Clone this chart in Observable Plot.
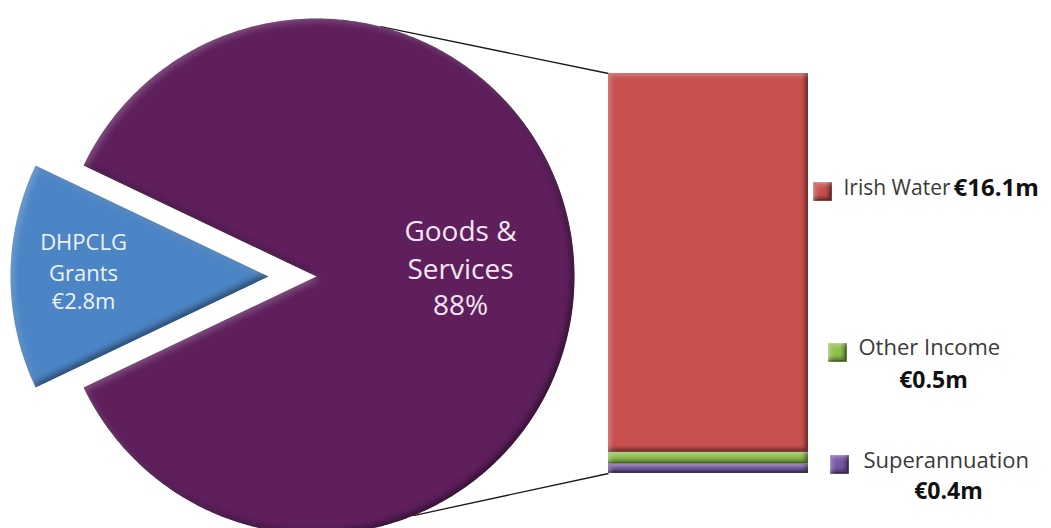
<!DOCTYPE html>
<html>
<head>
<meta charset="utf-8">
<script src="https://cdn.jsdelivr.net/npm/d3@7"></script>
<script src="https://cdn.jsdelivr.net/npm/@observablehq/plot@0.6"></script>
<style>
  html, body { margin: 0; padding: 0; background: #ffffff; }
  #chart { width: 1051px; height: 528px; }
</style>
</head>
<body>
<div id="chart"></div>
<script>
// ---------- data ----------
const pieLabels = ["Goods & Services", "DHPCLG Grants"];
const pieValues = [17.0, 2.8];
const pieTextLines = [["Goods &", "Services", "88%"], ["DHPCLG", "Grants", "€2.8m"]];

const barLabels = ["Superannuation", "Other Income", "Irish Water"];
const barValues = [0.4, 0.5, 16.1];
const barValueLabels = ["€0.4m", "€0.5m", "€16.1m"];

// ---------- styles / layout ----------
const colors = {
  "Goods & Services": "#5e1f5c",
  "DHPCLG Grants": "#4c85c5",
  "Superannuation": "#7657a3",
  "Other Income": "#8fc04e",
  "Irish Water": "#c8504f"
};
const W = 1051, H = 528;
const cx = 316, cy = 276, R = 258, explode = 48;
const barX1 = 608, barX2 = 808, barBottomPx = 473, barTopPx = 73;
const k = (barBottomPx - barTopPx) / d3.sum(barValues); // px per €m
const Y = px => (barBottomPx - px) / k;                 // pixel row -> €m
const FONT = "'Open Sans', 'Noto Sans', sans-serif";

// ---------- pie geometry from values ----------
const total = d3.sum(pieValues);
const blueSpan = 2 * Math.PI * pieValues[1] / total;
const a0 = -Math.PI / 2 + blueSpan / 2;
const arcs = d3.pie().sort(null).startAngle(a0).endAngle(a0 + 2 * Math.PI)(pieValues);
const slices = arcs.map((a, i) => {
  const off = i === 1 ? explode : 0;
  const mid = (a.startAngle + a.endAngle) / 2;
  const ox = cx + off * Math.sin(mid), oy = cy - off * Math.cos(mid);
  const pts = [{x: ox, y: Y(oy)}];
  const n = Math.max(8, Math.ceil((a.endAngle - a.startAngle) / (Math.PI / 360)));
  for (let j = 0; j <= n; j++) {
    const t = a.startAngle + (a.endAngle - a.startAngle) * j / n;
    pts.push({x: ox + R * Math.sin(t), y: Y(oy - R * Math.cos(t))});
  }
  pts.push({x: ox, y: Y(oy)});
  return {name: pieLabels[i], pts};
});

// connector lines: from pie rim to bar corners
const topAngle = 14.4 * Math.PI / 180, botAngle = 157.9 * Math.PI / 180;
const connectors = [
  {x1: cx + R * Math.sin(topAngle), y1: Y(cy - R * Math.cos(topAngle)), x2: barX1, y2: d3.sum(barValues)},
  {x1: cx + R * Math.sin(botAngle), y1: Y(cy - R * Math.cos(botAngle)), x2: barX1, y2: 0}
];

const barData = barLabels.map((name, i) => ({name, value: barValues[i], label: barValueLabels[i]}));

// label layout (pixel positions)
const pieTextLayout = [
  {x: 460, ys: [232, 270, 306], size: 28, fill: "#f3e6f3"},
  {x: 83, ys: [242, 273, 301], size: 22, fill: "#eef2f8"}
];
const legendLayout = [
  {sx: 839, sy: 464, tx: 863, ty: 460, tSize: 22, vx: 948, vy: 491, vAnchor: "middle", vSize: 23},
  {sx: 837, sy: 352, tx: 858, ty: 347, tSize: 22, vx: 933, vy: 380, vAnchor: "middle", vSize: 23},
  {sx: 822, sy: 191, tx: 843, ty: 188, tSize: 21, vx: 953, vy: 188, vAnchor: "start", vSize: 24}
];

const pieTextData = pieTextLines.flatMap((lines, i) =>
  lines.map((t, j) => ({t, g: i, x: pieTextLayout[i].x, y: Y(pieTextLayout[i].ys[j])})));

const marks = [];
// connectors under the pie
marks.push(Plot.link(connectors, {x1: "x1", y1: "y1", x2: "x2", y2: "y2", stroke: "#1a1a1a", strokeWidth: 1.3}));
// pie slices
slices.forEach(s => {
  marks.push(Plot.line(s.pts, {x: "x", y: "y", fill: colors[s.name], stroke: "none"}));
});
// stacked bar
marks.push(Plot.rectY(barData, {x1: () => barX1, x2: () => barX2, y: "value", fill: d => colors[d.name]}));
// pie text
pieTextLayout.forEach((L, i) => {
  marks.push(Plot.text(pieTextData.filter(d => d.g === i), {x: "x", y: "y", text: "t", fill: L.fill, fontSize: L.size, fontFamily: FONT, textAnchor: "middle"}));
});
// legend swatches
marks.push(Plot.dot(barData, {x: (d, i) => legendLayout[i].sx, y: (d, i) => Y(legendLayout[i].sy), symbol: "square", r: 10.5, fill: d => colors[d.name]}));
// legend names and values
barData.forEach((d, i) => {
  const L = legendLayout[i];
  marks.push(Plot.text([d], {x: () => L.tx, y: () => Y(L.ty), text: "name", textAnchor: "start", fontSize: L.tSize, fontFamily: FONT, fill: "#3a3a3a"}));
  marks.push(Plot.text([d], {x: () => L.vx, y: () => Y(L.vy), text: "label", textAnchor: L.vAnchor, fontSize: L.vSize, fontWeight: "bold", fontFamily: FONT, fill: "#111"}));
});

const chart = Plot.plot({
  width: W, height: H,
  margin: 0,
  x: {domain: [0, W], range: [0, W], axis: null},
  y: {domain: [Y(H), Y(0)], range: [H, 0], axis: null},
  style: {background: "#ffffff", fontFamily: FONT},
  marks
});

// bevel effect (inner shadow bottom-right, highlight top-left)
const ns = "http://www.w3.org/2000/svg";
const defs = document.createElementNS(ns, "defs");
defs.innerHTML = `
<filter id="bevel" x="-5%" y="-5%" width="110%" height="110%" color-interpolation-filters="sRGB">
  <feGaussianBlur in="SourceAlpha" stdDeviation="3" result="b"/>
  <feOffset in="b" dx="-3" dy="-3" result="bo1"/>
  <feComposite in="SourceAlpha" in2="bo1" operator="arithmetic" k2="1" k3="-1" result="sh"/>
  <feFlood flood-color="#000" flood-opacity="0.45"/>
  <feComposite in2="sh" operator="in" result="shadow"/>
  <feOffset in="b" dx="3" dy="3" result="bo2"/>
  <feComposite in="SourceAlpha" in2="bo2" operator="arithmetic" k2="1" k3="-1" result="hl"/>
  <feFlood flood-color="#fff" flood-opacity="0.22"/>
  <feComposite in2="hl" operator="in" result="highlight"/>
  <feMerge><feMergeNode in="SourceGraphic"/><feMergeNode in="shadow"/><feMergeNode in="highlight"/></feMerge>
</filter>
<filter id="bevelBar" x="-5%" y="-5%" width="110%" height="110%" color-interpolation-filters="sRGB">
  <feGaussianBlur in="SourceAlpha" stdDeviation="2" result="b"/>
  <feOffset in="b" dx="-3" dy="-3" result="bo1"/>
  <feComposite in="SourceAlpha" in2="bo1" operator="arithmetic" k2="1" k3="-1" result="sh"/>
  <feFlood flood-color="#000" flood-opacity="0.5"/>
  <feComposite in2="sh" operator="in" result="shadow"/>
  <feOffset in="b" dx="3" dy="3" result="bo2"/>
  <feComposite in="SourceAlpha" in2="bo2" operator="arithmetic" k2="1" k3="-1" result="hl"/>
  <feFlood flood-color="#fff" flood-opacity="0.25"/>
  <feComposite in2="hl" operator="in" result="highlight"/>
  <feMerge><feMergeNode in="SourceGraphic"/><feMergeNode in="shadow"/><feMergeNode in="highlight"/></feMerge>
</filter>`;
chart.insertBefore(defs, chart.firstChild);
chart.querySelectorAll('g[aria-label="line"] path').forEach(p => p.setAttribute("filter", "url(#bevel)"));
chart.querySelectorAll('g[aria-label="rect"] rect').forEach(r => r.setAttribute("filter", "url(#bevelBar)"));
chart.querySelectorAll('g[aria-label="dot"] path').forEach(r => r.setAttribute("filter", "url(#bevelBar)"));

document.getElementById("chart").appendChild(chart);
</script>
</body>
</html>
